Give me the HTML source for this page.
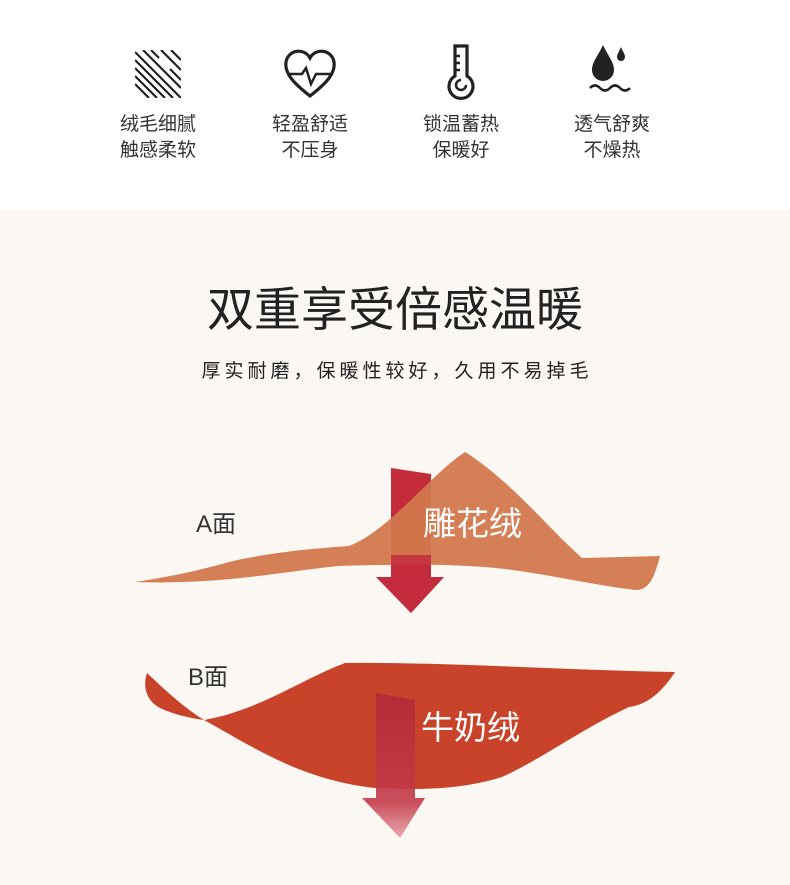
<!DOCTYPE html>
<html><head><meta charset="utf-8"><style>
html,body{margin:0;padding:0;}
body{width:790px;height:885px;position:relative;background:#fbf7f3;font-family:"Liberation Sans","Noto Sans CJK SC",sans-serif;overflow:hidden;}
.top{position:absolute;left:0;top:0;width:790px;height:210px;background:#fff;}
.lbl{position:absolute;width:140px;text-align:center;font-size:19px;line-height:26px;color:#333;}
.t{position:absolute;}
</style></head><body>
<div class="top"></div>
<svg width="790" height="210" style="position:absolute;left:0;top:0" fill="none" stroke="#222" stroke-width="3">
 <g>
  <clipPath id="c1"><rect x="135" y="50" width="46" height="48"/></clipPath>
  <g clip-path="url(#c1)" stroke-width="2.2">
   <path d="M135 60 L173 98 M135 68 L165 98 M135 76 L157 98 M135 84 L149 98 M135 52 L181 98 M143 50 L181 88 M181 60 L171 50 M181 70 L161 50 M181 80 L170 69 M151 50 L159 58"/>
  </g>
 </g>
 <path d="M310 96 C300 88 284 76 286 62 C288 50 304 47 310 58 C316 47 332 50 334 62 C336 76 320 88 310 96Z" stroke-width="3.2"/>
 <path d="M287 74 H302 L306 68 L311 84 L316 74 H333" stroke-width="2.5"/>
 <path d="M455 46 h12 v30 a12 12 0 1 1 -12 0 Z" stroke-width="3.2"/>
 <path d="M455 56 h5 M455 63 h5 M455 70 h5" stroke-width="2.5"/>
 <path d="M466 85 a5 5 0 1 1 -5 -5" stroke-width="2.5"/>
 <path d="M603 45 C598 56 592 62 592 70 A11 11 0 0 0 614 70 C614 62 608 56 603 45Z" fill="#222" stroke="none"/>
 <path d="M621 47 C619 52 617 54 617 57 A4 4 0 0 0 625 57 C625 54 623 52 621 47Z" fill="#222" stroke="none"/>
 <path d="M590 88 q5 -5 10 0 q5 5 10 0 q5 -5 10 0 q5 5 10 0" stroke-width="2.5"/>
</svg>
<div class="lbl" style="left:88px;top:112px">绒毛细腻<br>触感柔软</div>
<div class="lbl" style="left:240px;top:112px">轻盈舒适<br>不压身</div>
<div class="lbl" style="left:391px;top:112px">锁温蓄热<br>保暖好</div>
<div class="lbl" style="left:542px;top:112px">透气舒爽<br>不燥热</div>
<div class="t" style="left:0;width:790px;text-align:center;top:280px;font-size:47px;line-height:60px;color:#222;">双重享受倍感温暖</div>
<div class="t" style="left:0;width:790px;text-align:center;top:359px;font-size:19px;line-height:26px;color:#222;letter-spacing:4px;text-indent:4px;">厚实耐磨，保暖性较好，久用不易掉毛</div>
<svg width="790" height="885" style="position:absolute;left:0;top:0">
 <defs>
  <linearGradient id="fade" x1="0" y1="0" x2="0" y2="1">
   <stop offset="0" stop-color="#b52838"/><stop offset="0.75" stop-color="#c33a48"/><stop offset="1" stop-color="#e8a0a8"/>
  </linearGradient>
 </defs>
 <path d="M391 468 L431 474 V577 H444 L411 613 L376 577 H391Z" fill="#c42c3c"/>
 <path d="M135 582 C180 575 200 570 229 562 C270 552 320 548 349 546 C390 530 430 475 465 452 C510 480 550 530 582 558 L660 556 C655 575 650 590 636 590 C590 585 530 570 484 567 C430 563 380 565 338 566 C280 572 220 585 135 582Z" fill="#d2784c" opacity="0.95"/>
 <path d="M391 555 L431 555 V577 H444 L411 613 L376 577 H391Z" fill="#c42c3c" opacity="0.85"/>
 <path d="M204 720 C180 705 160 685 147 673 C143 685 145 700 160 708 C175 715 190 718 204 720 C260 710 300 680 345 663 C450 662 560 670 675 672 C660 695 645 705 629 707 C580 730 540 760 502 777 C460 790 420 790 375 788 C300 780 250 745 204 720Z" fill="#c8432a"/>
 <path d="M376 693 L415 700 V798 H425 L400 838 L362 798 H376Z" fill="url(#fade)" opacity="0.9"/>
 <text x="196" y="532" font-size="24" fill="#333" font-family="Liberation Sans, Noto Sans CJK SC, sans-serif">A面</text>
 <text x="188" y="685" font-size="24" fill="#333" font-family="Liberation Sans, Noto Sans CJK SC, sans-serif">B面</text>
 <text x="423" y="535" font-size="33" fill="#fff" font-family="Liberation Sans, Noto Sans CJK SC, sans-serif">雕花绒</text>
 <text x="421" y="739" font-size="33" fill="#fff" font-family="Liberation Sans, Noto Sans CJK SC, sans-serif">牛奶绒</text>
</svg>
</body></html>
